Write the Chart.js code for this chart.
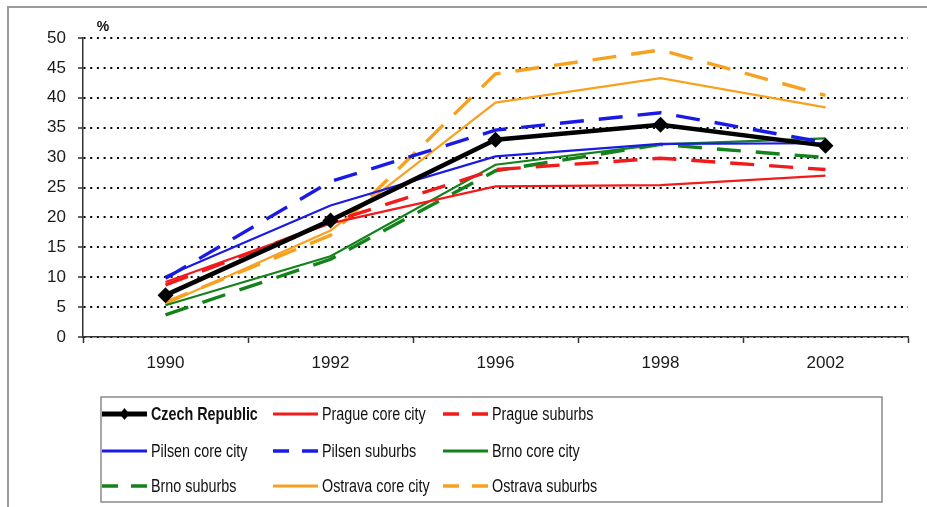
<!DOCTYPE html>
<html>
<head>
<meta charset="utf-8">
<script src="https://cdn.jsdelivr.net/npm/chart.js@4/dist/chart.umd.min.js"></script>
<style>
  html, body { margin: 0; padding: 0; background: #fff; }
  #wrap { position: relative; width: 927px; height: 507px; }
  canvas { display: block; }
</style>
</head>
<body>
<div id="wrap"><canvas id="c" width="927" height="507"></canvas></div>
<script>
// ---- data ----
const categories = ['1990', '1992', '1996', '1998', '2002'];
const czechRepublic   = [7.0, 19.5, 33.0, 35.5, 32.0];
const pragueCore      = [9.2, 19.0, 25.2, 25.4, 27.0];
const pragueSuburbs   = [8.7, 19.2, 28.0, 29.9, 28.0];
const pilsenCore      = [10.1, 22.0, 30.2, 32.3, 32.4];
const pilsenSuburbs   = [9.8, 26.0, 34.6, 37.5, 32.5];
const brnoCore        = [5.3, 13.5, 28.8, 32.2, 33.2];
const brnoSuburbs     = [3.7, 13.0, 27.8, 32.2, 30.0];
const ostravaCore     = [5.5, 17.8, 39.2, 43.3, 38.4];
const ostravaSuburbs  = [5.8, 17.0, 44.0, 48.0, 40.4];
const seriesNames = ['Czech Republic', 'Prague core city', 'Prague suburbs',
  'Pilsen core city', 'Pilsen suburbs', 'Brno core city',
  'Brno suburbs', 'Ostrava core city', 'Ostrava suburbs'];
const yTicks = [0, 5, 10, 15, 20, 25, 30, 35, 40, 45, 50];
const unitLabel = '%';

const RED = '#f21a1a', BLUE = '#1a1ae6', GREEN = '#13821a', ORANGE = '#f7a11e';
const DASH = [24, 15];

function solid(label, data, color) {
  return { label, data, borderColor: color, backgroundColor: color, borderWidth: 2.2,
    pointRadius: 0, pointHoverRadius: 0, tension: 0, fill: false };
}
function dashed(label, data, color) {
  return { label, data, borderColor: color, backgroundColor: color, borderWidth: 3.4,
    borderDash: DASH, pointRadius: 0, pointHoverRadius: 0, tension: 0, fill: false };
}

const datasets = [
  { label: seriesNames[0], data: czechRepublic, borderColor: '#000', backgroundColor: '#000',
    borderWidth: 4.5, pointStyle: 'rectRot', pointRadius: 8, pointBorderWidth: 0,
    pointBackgroundColor: '#000', tension: 0, fill: false },
  solid(seriesNames[1], pragueCore, RED),
  dashed(seriesNames[2], pragueSuburbs, RED),
  solid(seriesNames[3], pilsenCore, BLUE),
  dashed(seriesNames[4], pilsenSuburbs, BLUE),
  solid(seriesNames[5], brnoCore, GREEN),
  dashed(seriesNames[6], brnoSuburbs, GREEN),
  solid(seriesNames[7], ostravaCore, ORANGE),
  dashed(seriesNames[8], ostravaSuburbs, ORANGE)
];

const FONT = "'Liberation Sans', Arial, sans-serif";
const CONDENSE = 0.82;

const framePlugin = {
  id: 'frame',
  beforeDraw(chart) {
    const ctx = chart.ctx;
    ctx.save();
    ctx.fillStyle = '#fff';
    ctx.fillRect(0, 0, chart.width, chart.height);
    ctx.strokeStyle = '#9a9a9a';
    ctx.lineWidth = 2;
    ctx.beginPath();
    ctx.moveTo(8, chart.height);
    ctx.lineTo(8, 7);
    ctx.lineTo(chart.width, 7);
    ctx.stroke();
    ctx.restore();
  },
  afterDraw(chart) {
    const ctx = chart.ctx;
    const area = chart.chartArea;
    ctx.save();
    // unit label
    ctx.fillStyle = '#111';
    ctx.font = "bold 14px " + FONT;
    ctx.textAlign = 'center';
    ctx.textBaseline = 'middle';
    ctx.fillText(unitLabel, area.left + 20, area.top - 11);

    // legend box
    const bx = 101, by = 397, bw = 781, bh = 105;
    ctx.strokeStyle = '#8a8a8a';
    ctx.lineWidth = 1.5;
    ctx.strokeRect(bx, by, bw, bh);

    const colX = [102, 273, 443];
    const rowY = [414, 451, 486];
    const sampleW = 45;
    chart.data.datasets.forEach((ds, i) => {
      const col = i % 3, row = Math.floor(i / 3);
      const x = colX[col], y = rowY[row];
      ctx.save();
      ctx.strokeStyle = ds.borderColor;
      ctx.lineWidth = i === 0 ? 5 : (ds.borderDash ? 3.6 : 3);
      ctx.setLineDash(ds.borderDash ? [16, 13] : []);
      ctx.beginPath();
      ctx.moveTo(x, y);
      ctx.lineTo(x + sampleW, y);
      ctx.stroke();
      ctx.setLineDash([]);
      if (i === 0) {
        ctx.fillStyle = '#000';
        ctx.beginPath();
        const cx = x + sampleW / 2, r = 6;
        ctx.moveTo(cx, y - r); ctx.lineTo(cx + r * 0.8, y); ctx.lineTo(cx, y + r); ctx.lineTo(cx - r * 0.8, y);
        ctx.closePath(); ctx.fill();
      }
      ctx.fillStyle = '#111';
      ctx.font = (i === 0 ? 'bold ' : '') + '17.5px ' + FONT;
      ctx.textAlign = 'left';
      ctx.textBaseline = 'middle';
      ctx.translate(x + sampleW + 4, y + 1);
      ctx.scale(CONDENSE, 1);
      ctx.fillText(ds.label, 0, 0);
      ctx.restore();
    });
    ctx.restore();
  }
};

new Chart(document.getElementById('c'), {
  type: 'line',
  data: { labels: categories, datasets },
  options: {
    responsive: false,
    animation: false,
    events: [],
    layout: { padding: { left: 0, top: 38, right: 19, bottom: 130 } },
    plugins: { legend: { display: false }, tooltip: { enabled: false }, title: { display: false } },
    scales: {
      x: {
        type: 'category',
        offset: true,
        afterFit(scale) { scale.height = 40; },
        grid: { offset: true, drawOnChartArea: false, drawTicks: true, tickLength: 6,
                tickColor: '#333', tickWidth: 1.5 },
        border: { display: true, color: '#333', width: 1.5 },
        ticks: { color: '#1a1a1a', font: { family: FONT, size: 17 }, padding: 10, maxRotation: 0 }
      },
      y: {
        min: 0, max: 50,
        afterFit(scale) { scale.width = 83; },
        afterBuildTicks(scale) { scale.ticks = yTicks.map(v => ({ value: v })); },
        grid: { color: '#000', lineWidth: 2, drawTicks: true, tickLength: 5,
                tickColor: '#333', tickWidth: 1.5, tickBorderDash: [] },
        border: { display: true, color: '#333', width: 1.5, dash: [2, 4.7] },
        ticks: { color: '#1a1a1a', font: { family: FONT, size: 17 }, padding: 12 }
      }
    }
  },
  plugins: [framePlugin]
});
</script>
</body>
</html>
